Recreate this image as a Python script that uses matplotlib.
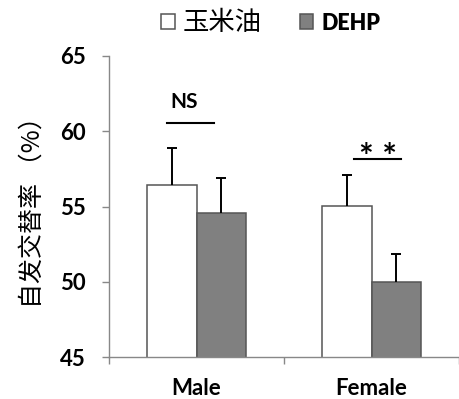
import matplotlib
matplotlib.use("Agg")
import matplotlib.pyplot as plt
import numpy as np

# data
groups = ["Male", "Female"]
series = ["玉米油", "DEHP"]
corn_oil = [56.4, 55.05]
corn_oil_err = [2.5, 2.05]
dehp = [54.55, 50.0]
dehp_err = [2.35, 1.85]
yticks = [45, 50, 55, 60, 65]

LAT = ["Lato", "Noto Sans CJK SC", "DejaVu Sans"]
CJK = ["Noto Sans CJK SC", "DejaVu Sans"]

fig = plt.figure(figsize=(4.59, 3.99), dpi=100)
ax = fig.add_axes([109 / 459, 42 / 399, 350 / 459, 301 / 399])

x = np.arange(len(groups)) + 0.5
w = 0.284
edge = "#555555"
ax.bar(x - w / 2, corn_oil, w, color="white", edgecolor=edge,
       linewidth=1.1, label=series[0], zorder=2)
ax.bar(x + w / 2, dehp, w, color="#808080", edgecolor=edge,
       linewidth=1.1, label=series[1], zorder=2)
# upper error bars only (hide the lower cap)
for xs, vals, errs in [(x - w / 2, corn_oil, corn_oil_err),
                       (x + w / 2, dehp, dehp_err)]:
    eb = ax.errorbar(xs, vals, yerr=[[0] * len(errs), errs], fmt="none",
                     ecolor="black", elinewidth=1.4, capsize=3.5,
                     capthick=1.4, zorder=3)
    eb[1][0].set_visible(False)

ax.set_xlim(0, 2)
ax.set_ylim(45, 65)
ax.set_yticks(yticks)
ax.set_yticklabels([str(t) for t in yticks], family=LAT, fontweight="bold",
                   fontsize=16)
ax.set_xticks(x)
ax.set_xticklabels(groups, family=LAT, fontweight="bold", fontsize=16)
ax.set_xticks([0, 1, 2], minor=True)
ax.tick_params(axis="x", which="major", length=0, pad=15)
ax.tick_params(axis="x", which="minor", length=5, width=1, color="#888888",
               direction="out")
ax.tick_params(axis="y", length=5, width=1, color="#888888", pad=12)
for s in ["top", "right"]:
    ax.spines[s].set_visible(False)
for s in ["left", "bottom"]:
    ax.spines[s].set_color("#888888")
    ax.spines[s].set_linewidth(1)

ax.set_ylabel("自发交替率 （%）", family=CJK, fontsize=18, labelpad=10)

# significance marks
ax.plot([0.33, 0.60], [60.58, 60.58], color="black", lw=1.5, clip_on=False)
ax.text(0.43, 61.3, "NS", ha="center", va="bottom", family=LAT,
        fontweight="bold", fontsize=15)
ax.plot([1.40, 1.67], [58.18, 58.18], color="black", lw=1.5, clip_on=False)
ax.text(1.535, 58.2, "* *", ha="center", va="center", family=LAT,
        fontweight="bold", fontsize=25)

leg = ax.legend(loc="center", bbox_to_anchor=(0.462, 1.11), ncol=2,
                frameon=False, handlelength=0.5, handleheight=0.5,
                handletextpad=0.3, columnspacing=1.45, borderaxespad=0,
                prop={"size": 19})
texts = leg.get_texts()
texts[0].set_family(CJK)
texts[1].set_family(LAT)
texts[1].set_fontweight("heavy")
texts[1].set_fontsize(15.5)

fig.savefig("out.png", dpi=100)
